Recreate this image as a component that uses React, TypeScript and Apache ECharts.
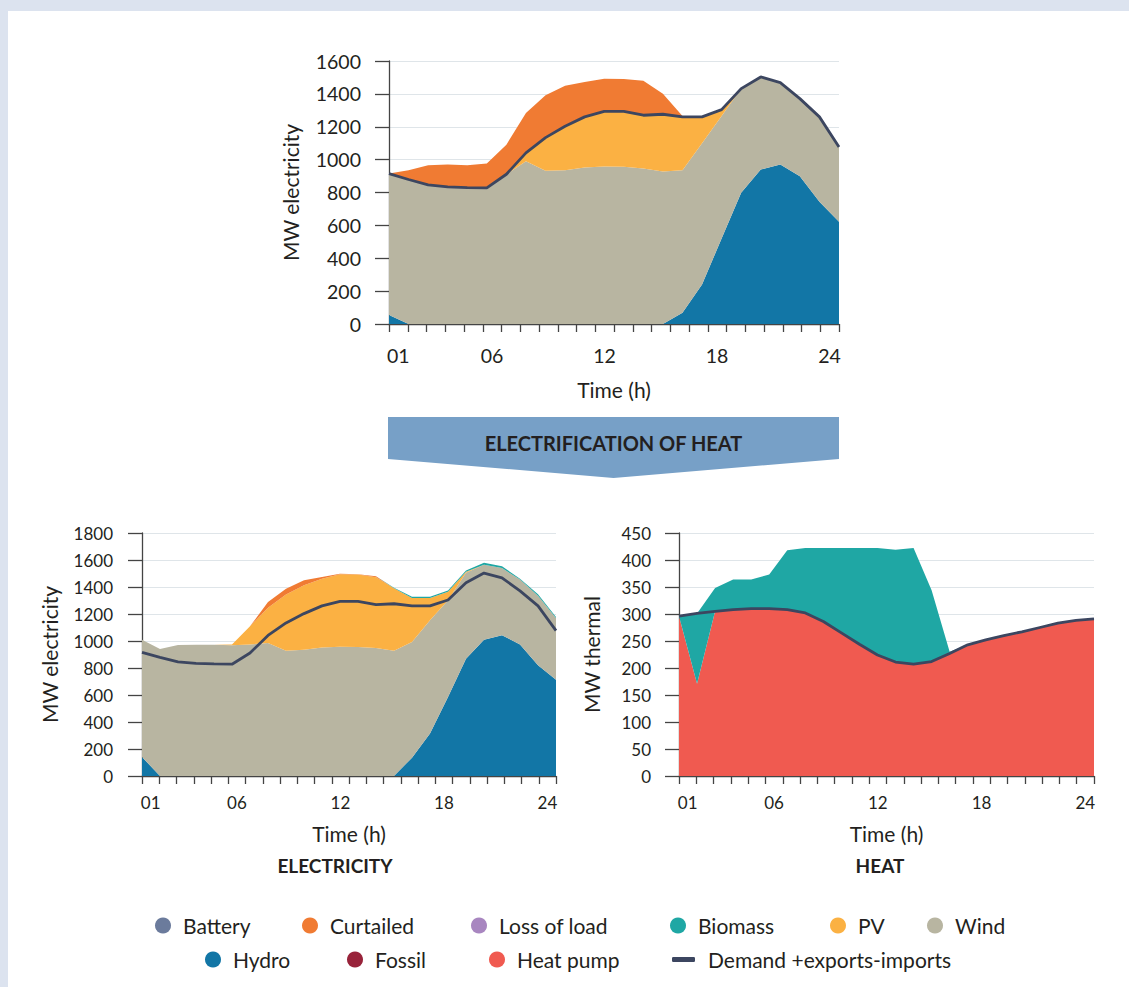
import React, { useEffect, useRef } from "react";
import * as echarts from "echarts";

// ---------- data ----------
const HOURS = ["01","02","03","04","05","06","07","08","09","10","11","12","13","14","15","16","17","18","19","20","21","22","23","24"];
const LABEL_IDX = [0, 5, 11, 17, 23];

// Top: current system (MW electricity)
const topHydro = [55, 0, 0, 0, 0, 0, 0, 0, 0, 0, 0, 0, 0, 0, 0, 69, 241, 520, 798, 940, 970, 899, 743, 622];
const topWind = [860, 879, 846, 834, 830, 828, 911, 990, 932, 935, 952, 958, 956, 946, 927, 866, 859, 745, 634, 563, 498, 472, 517, 455];
const topPV = [0, 0, 0, 0, 0, 0, 0, 51, 202, 268, 308, 336, 338, 324, 349, 325, 160, 39, 0, 0, 0, 0, 0, 0];
const topCurtailed = [0, 56, 120, 136, 136, 148, 180, 243, 257, 247, 212, 198, 196, 210, 125, 5, 0, 0, 0, 0, 0, 0, 0, 0];
const elecDemand = [915, 879, 846, 834, 830, 828, 911, 1041, 1134, 1203, 1260, 1294, 1294, 1270, 1276, 1260, 1260, 1304, 1432, 1503, 1468, 1371, 1260, 1077];

// Bottom-left: electricity after electrification of heat
const elHydro = [141, 0, 0, 0, 0, 0, 0, 0, 0, 0, 0, 0, 0, 0, 0, 136, 314, 585, 869, 1010, 1042, 975, 820, 713];
const elWind = [869, 941, 970, 973, 973, 968, 975, 985, 928, 936, 951, 958, 956, 948, 928, 857, 839, 716, 636, 555, 498, 480, 515, 457];
const elPV = [0, 0, 0, 0, 0, 7, 134, 262, 417, 477, 511, 536, 536, 524, 462, 325, 165, 64, 8, 0, 0, 0, 0, 0];
const elCurtailed = [0, 0, 0, 0, 0, 0, 0, 42, 42, 37, 12, 5, 3, 7, 0, 0, 0, 0, 0, 0, 0, 0, 0, 0];
const elBiomass = [0, 0, 0, 0, 0, 0, 0, 0, 0, 0, 0, 0, 0, 0, 5, 10, 10, 10, 10, 15, 13, 7, 11, 8];

// Bottom-right: heat (MW thermal)
const heatPump = [296, 171, 305, 308, 310, 310, 308, 302, 286, 265, 244, 224, 211, 207, 212, 227, 243, 252, 260, 267, 275, 283, 288, 291];
const heatBiomass = [0, 130, 43, 56, 54, 63, 110, 120, 136, 157, 178, 198, 208, 215, 132, 3, 0, 0, 0, 0, 0, 0, 0, 0];
const heatDemand = [296, 301, 305, 308, 310, 310, 308, 302, 286, 265, 244, 224, 211, 207, 212, 227, 243, 252, 260, 267, 275, 283, 288, 291];

// ---------- styles ----------
const C = {
  battery: "#6b7b9c",
  curtailed: "#f07b33",
  loss: "#a886c0",
  biomass: "#1fa7a4",
  pv: "#fbb143",
  wind: "#b8b5a1",
  hydro: "#1276a6",
  fossil: "#98233a",
  heat: "#f05a50",
  demand: "#3c4660",
};
const FONT = "Lato";
const TXT = "#231f20";
const AXIS = "#444444";
const GRIDLINE = "#dfe5e9";
const DEMAND_NAME = "Demand +exports-imports";

function area(name: string, data: number[], color: string, stack: string, xi: number, yi: number) {
  return {
    name, type: "line", data, stack, xAxisIndex: xi, yAxisIndex: yi,
    color, itemStyle: { color },
    areaStyle: { color, opacity: 1 },
    lineStyle: { width: 0 },
    symbol: "none", showSymbol: false, silent: true, z: 2,
  };
}
function demand(data: number[], xi: number, yi: number) {
  return {
    name: DEMAND_NAME, type: "line", data, xAxisIndex: xi, yAxisIndex: yi,
    color: C.demand, itemStyle: { color: C.demand },
    lineStyle: { width: 2.8, color: C.demand },
    symbol: "none", showSymbol: false, silent: true, z: 5,
  };
}
function dummy(name: string, color: string) {
  return { name, type: "line", data: [], xAxisIndex: 1, yAxisIndex: 0, color, itemStyle: { color }, symbol: "none" };
}

function labelAxis(gridIndex: number, fontSize: number, margin: number, nameGap: number) {
  return {
    type: "category", gridIndex, data: HOURS, boundaryGap: true, position: "bottom",
    axisLine: { show: true, lineStyle: { color: AXIS, width: 1.3 } },
    axisTick: { show: true, interval: 0, length: 8, lineStyle: { color: AXIS, width: 1.3 } },
    axisLabel: { interval: (i: number) => LABEL_IDX.includes(i), margin, color: TXT, fontSize, fontFamily: FONT },
    splitLine: { show: false },
    name: "Time (h)", nameLocation: "middle", nameGap,
    nameTextStyle: { color: TXT, fontSize: 21, fontFamily: FONT },
  };
}
function dataAxis(gridIndex: number) {
  return { type: "category", gridIndex, data: HOURS, boundaryGap: false, show: false };
}
function valueAxis(gridIndex: number, max: number, interval: number, name: string, fontSize: number, margin: number, nameGap: number) {
  return {
    type: "value", gridIndex, min: 0, max, interval,
    axisLine: { show: true, lineStyle: { color: AXIS, width: 1.3 } },
    axisTick: { show: true, length: 14, lineStyle: { color: AXIS, width: 1.3 } },
    axisLabel: { margin, color: TXT, fontSize, fontFamily: FONT, formatter: (v: number) => String(v) },
    splitLine: { show: true, lineStyle: { color: GRIDLINE, width: 1.2 } },
    name, nameLocation: "middle", nameGap,
    nameTextStyle: { color: TXT, fontSize: 21, fontFamily: FONT },
  };
}

const LEGEND_ITEMS = [
  { name: "Battery", color: C.battery, left: 155, row: 0 },
  { name: "Curtailed", color: C.curtailed, left: 302, row: 0 },
  { name: "Loss of load", color: C.loss, left: 471, row: 0 },
  { name: "Biomass", color: C.biomass, left: 670, row: 0 },
  { name: "PV", color: C.pv, left: 830, row: 0 },
  { name: "Wind", color: C.wind, left: 927, row: 0 },
  { name: "Hydro", color: C.hydro, left: 205, row: 1 },
  { name: "Fossil", color: C.fossil, left: 347, row: 1 },
  { name: "Heat pump", color: C.heat, left: 489, row: 1 },
];
const ROW_TOP = [915, 949];

function buildOption() {
  const legends: any[] = LEGEND_ITEMS.map((it) => ({
    data: [{ name: it.name, icon: "circle" }],
    left: it.left, top: ROW_TOP[it.row], padding: 0,
    itemWidth: 30, itemHeight: 16, selectedMode: false,
    textStyle: { color: TXT, fontSize: 21, fontFamily: FONT },
  }));
  legends.push({
    data: [{ name: DEMAND_NAME, icon: "roundRect" }],
    left: 672, top: ROW_TOP[1], padding: 0,
    itemWidth: 23, itemHeight: 5, selectedMode: false,
    textStyle: { color: TXT, fontSize: 21, fontFamily: FONT, padding: [0, 0, 0, 8] },
  });

  return {
    animation: false,
    legend: legends,
    grid: [
      { left: 389, top: 61, width: 450, height: 263, show: true, borderColor: AXIS, borderWidth: 1.3, backgroundColor: "transparent", containLabel: false },
      { left: 142, top: 533, width: 414, height: 243, show: true, borderColor: AXIS, borderWidth: 1.3, backgroundColor: "transparent", containLabel: false },
      { left: 679, top: 533, width: 415, height: 243, show: true, borderColor: AXIS, borderWidth: 1.3, backgroundColor: "transparent", containLabel: false },
    ],
    xAxis: [
      labelAxis(0, 19.5, 21, 55), dataAxis(0),
      labelAxis(1, 17, 18, 47), dataAxis(1),
      labelAxis(2, 17, 18, 47), dataAxis(2),
    ],
    yAxis: [
      valueAxis(0, 1600, 200, "MW electricity", 19.5, 28, 88),
      valueAxis(1, 1800, 200, "MW electricity", 17, 29, 82),
      valueAxis(2, 450, 50, "MW thermal", 17, 28, 77),
    ],
    graphic: [
      { type: "rect", silent: true, z: 0, shape: { x: 8, y: 11, width: 1121, height: 976 }, style: { fill: "#ffffff" } },
      { type: "polygon", silent: true, z: 1, shape: { points: [[388, 417], [839, 417], [839, 459], [613.5, 478], [388, 459]] }, style: { fill: "#77a0c7" } },
      { type: "text", silent: true, z: 3, x: 613.5, y: 443, style: { text: "ELECTRIFICATION OF HEAT", align: "center", verticalAlign: "middle", fill: TXT, font: `bold 20px ${FONT}` } },
      { type: "text", silent: true, z: 3, x: 335, y: 865, style: { text: "ELECTRICITY", align: "center", verticalAlign: "middle", fill: TXT, font: `bold 19px ${FONT}` } },
      { type: "text", silent: true, z: 3, x: 880, y: 865, style: { text: "HEAT", align: "center", verticalAlign: "middle", fill: TXT, font: `bold 19px ${FONT}` } },
    ],
    series: [
      // top
      area("Hydro", topHydro, C.hydro, "top", 1, 0),
      area("Wind", topWind, C.wind, "top", 1, 0),
      area("PV", topPV, C.pv, "top", 1, 0),
      area("Curtailed", topCurtailed, C.curtailed, "top", 1, 0),
      demand(elecDemand, 1, 0),
      // bottom-left
      area("Hydro", elHydro, C.hydro, "el", 3, 1),
      area("Wind", elWind, C.wind, "el", 3, 1),
      area("PV", elPV, C.pv, "el", 3, 1),
      area("Curtailed", elCurtailed, C.curtailed, "el", 3, 1),
      area("Biomass", elBiomass, C.biomass, "el", 3, 1),
      demand(elecDemand, 3, 1),
      // bottom-right
      area("Heat pump", heatPump, C.heat, "heat", 5, 2),
      area("Biomass", heatBiomass, C.biomass, "heat", 5, 2),
      demand(heatDemand, 5, 2),
      // legend-only categories
      dummy("Battery", C.battery),
      dummy("Loss of load", C.loss),
      dummy("Fossil", C.fossil),
    ],
  };
}

export default function App() {
  const ref = useRef<HTMLDivElement>(null);
  useEffect(() => {
    if (!ref.current) return;
    const chart = echarts.init(ref.current, null, { renderer: "svg" });
    chart.setOption(buildOption() as any);
    return () => chart.dispose();
  }, []);
  return (
    <div style={{ position: "fixed", left: 0, top: 0, width: 1129, height: 987, background: "#dce3ef" }}>
      <div ref={ref} style={{ width: 1129, height: 987 }} />
    </div>
  );
}
